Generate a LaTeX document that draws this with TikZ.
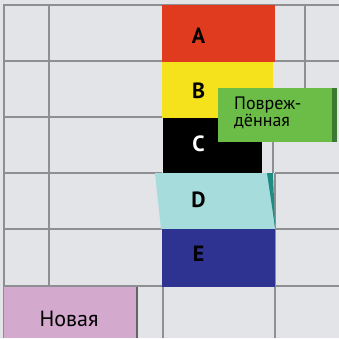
\documentclass[tikz,border=0pt]{standalone}
\usepackage{fontspec}
\setmainfont{PT Sans}
\definecolor{bg}{HTML}{E2E4E7}
\definecolor{grid}{HTML}{8E8F92}
\definecolor{redA}{HTML}{E13B1F}
\definecolor{yelB}{HTML}{F6E21C}
\definecolor{cyanD}{HTML}{A7DCDC}
\definecolor{tealD}{HTML}{1D8C82}
\definecolor{blueE}{HTML}{2E3391}
\definecolor{greenF}{HTML}{6BBD47}
\definecolor{greenE}{HTML}{3C7A33}
\definecolor{pinkN}{HTML}{D3A9CE}
\tikzset{
  gridline/.style={grid, line width=1.2pt},
  letter/.style={font=\fontsize{22}{22}\selectfont\bfseries}
}
\begin{document}
\begin{tikzpicture}[x=1pt,y=-1pt]
\useasboundingbox (0,0) rectangle (339,338);
\fill[bg] (0,0) rectangle (339,338);
% grid
\draw[gridline] (4,338) -- (4,5) -- (339,5);
\draw[gridline] (49,5) -- (49,286);
\foreach \y in {61,117,173,229,286} \draw[gridline] (4,\y) -- (162,\y);
\foreach \y in {61,173,229,286} \draw[gridline] (275,\y) -- (339,\y);
\draw[gridline] (305,5) -- (305,88);
\draw[gridline] (273,142) -- (273,173) (275,173) -- (275,338);
\draw[gridline] (163,286) -- (163,338);
% column
\fill[redA] (162,5) rectangle (275,62);
\fill[yelB] (162,62) rectangle (273,118);
\fill[black] (163,118) rectangle (262,173);
\fill[cyanD] (155,173) -- (270,173) -- (275,229) -- (161,229) -- cycle;
\fill[tealD] (267,173) -- (273,173) -- (275,227) -- cycle;
\fill[blueE] (162,229) rectangle (275,287);
% damaged
\fill[greenF] (218,88) rectangle (337,142);
\fill[greenE] (332,88) rectangle (337,142);
% new
\fill[pinkN] (4,287) rectangle (137,338);
\draw[grid!70!black, line width=1.2pt] (137,287) -- (137,338);
\node[letter] (lA) at (198.5,36) {A};
\node[letter] (lB) at (198.5,90.5) {B};
\node[letter, white] (lC) at (198.5,144) {C};
\node[letter] (lD) at (198.5,200) {D};
\node[letter] (lE) at (198.5,254) {E};
\node[anchor=base west, inner sep=0pt, align=left,
  font=\fontsize{18}{15.6}\selectfont] (dmg) at (234,126) {Повреж-\\дённая};
\node[anchor=base, inner sep=0pt, font=\fontsize{22}{22}\selectfont] (new) at (69,326) {Новая};
\end{tikzpicture}
\end{document}
